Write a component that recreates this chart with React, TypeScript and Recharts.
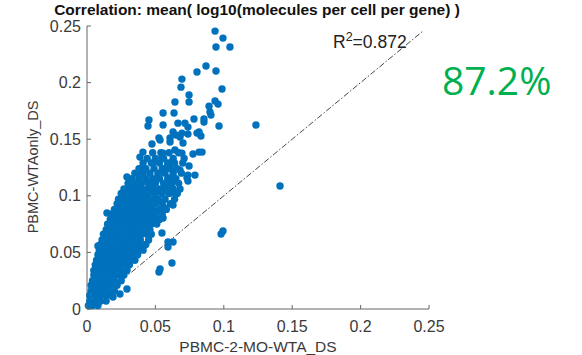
import React from "react";
import { ScatterChart, Scatter, XAxis, YAxis, ReferenceLine } from "recharts";

// axis ticks
const xTicks = [0, 0.05, 0.1, 0.15, 0.2, 0.25];
const yTicks = [0, 0.05, 0.1, 0.15, 0.2, 0.25];
const diagonalEnd = 0.245;
const r2Label = "0.872";
const bigPercent = "87.2%";

// dense core: [y, xs along that row]
const coreRows: [number, number[]][] = [
  [0.003, [0.001, 0.004, 0.008]],
  [0.007, [0.002, 0.006, 0.010, 0.014]],
  [0.012, [0.002, 0.006, 0.010, 0.014, 0.018]],
  [0.016, [0.003, 0.007, 0.011, 0.015, 0.020]],
  [0.021, [0.003, 0.006, 0.010, 0.014, 0.018, 0.022]],
  [0.025, [0.004, 0.008, 0.012, 0.016, 0.020, 0.025]],
  [0.030, [0.005, 0.009, 0.013, 0.017, 0.021, 0.024, 0.027]],
  [0.034, [0.005, 0.008, 0.012, 0.016, 0.020, 0.024, 0.029]],
  [0.039, [0.006, 0.010, 0.014, 0.018, 0.022, 0.026, 0.031]],
  [0.043, [0.007, 0.011, 0.015, 0.019, 0.023, 0.027, 0.031, 0.035]],
  [0.048, [0.008, 0.012, 0.016, 0.020, 0.024, 0.028, 0.032, 0.037]],
  [0.052, [0.009, 0.013, 0.017, 0.021, 0.025, 0.029, 0.033, 0.037, 0.041]],
  [0.057, [0.010, 0.014, 0.018, 0.022, 0.026, 0.030, 0.034, 0.038, 0.043]],
  [0.061, [0.011, 0.015, 0.019, 0.023, 0.027, 0.031, 0.035, 0.039, 0.045]],
  [0.066, [0.012, 0.016, 0.020, 0.024, 0.028, 0.032, 0.036, 0.040, 0.044, 0.047]],
  [0.070, [0.014, 0.018, 0.022, 0.026, 0.030, 0.034, 0.038, 0.042, 0.046]],
  [0.075, [0.015, 0.019, 0.023, 0.027, 0.031, 0.035, 0.039, 0.043, 0.047, 0.051]],
  [0.079, [0.017, 0.021, 0.025, 0.029, 0.033, 0.037, 0.041, 0.045, 0.049, 0.053]],
  [0.084, [0.018, 0.022, 0.026, 0.030, 0.034, 0.038, 0.042, 0.046, 0.050, 0.055]],
  [0.088, [0.020, 0.024, 0.028, 0.032, 0.036, 0.040, 0.044, 0.048, 0.053, 0.058]],
  [0.093, [0.022, 0.026, 0.030, 0.034, 0.038, 0.042, 0.046, 0.050, 0.055, 0.061]],
  [0.097, [0.023, 0.027, 0.031, 0.035, 0.039, 0.043, 0.047, 0.052, 0.057, 0.064]],
  [0.102, [0.025, 0.029, 0.033, 0.037, 0.041, 0.045, 0.050, 0.055, 0.060, 0.066]],
  [0.106, [0.027, 0.031, 0.035, 0.040, 0.044, 0.048, 0.053, 0.058, 0.063, 0.068]],
  [0.111, [0.030, 0.035, 0.040, 0.045, 0.050, 0.056, 0.062, 0.067]],
  [0.115, [0.033, 0.038, 0.043, 0.048, 0.053, 0.059, 0.065]],
  [0.120, [0.035, 0.041, 0.046, 0.052, 0.057, 0.063, 0.069]],
  [0.124, [0.038, 0.043, 0.049, 0.055, 0.061, 0.066]],
  [0.129, [0.041, 0.047, 0.053, 0.059, 0.064, 0.070]],
  [0.133, [0.044, 0.050, 0.056, 0.063, 0.071]],
  [0.138, [0.048, 0.054, 0.060, 0.067]],
];

// sparse upper points [x, y]
const upperPoints: [number, number][] = [
  [0.0936, 0.2455], [0.0994, 0.2393], [0.0943, 0.2314], [0.1045, 0.2314],
  [0.0870, 0.2146], [0.0804, 0.2093], [0.0943, 0.2102], [0.0694, 0.2031],
  [0.0687, 0.1960], [0.0987, 0.1943], [0.0746, 0.1890], [0.0643, 0.1828],
  [0.0746, 0.1828], [0.0936, 0.1837], [0.0892, 0.1792], [0.0958, 0.1810],
  [0.0556, 0.1731], [0.0636, 0.1731], [0.0899, 0.1740], [0.0906, 0.1713],
  [0.0453, 0.1669], [0.0446, 0.1616], [0.0556, 0.1625], [0.0665, 0.1642],
  [0.0716, 0.1642], [0.0738, 0.1607], [0.0782, 0.1678], [0.0855, 0.1678],
  [0.0855, 0.1651], [0.0965, 0.1616], [0.1235, 0.1625], [0.0629, 0.1563],
  [0.0526, 0.1510], [0.0607, 0.1510], [0.0680, 0.1519], [0.0738, 0.1545],
  [0.0819, 0.1563], [0.0833, 0.1528], [0.0694, 0.1554], [0.0804, 0.1554],
  [0.0702, 0.1466], [0.0694, 0.1377], [0.0775, 0.1369], [0.0819, 0.1386],
  [0.0680, 0.1227], [0.0746, 0.1263], [0.0789, 0.1183], [0.0731, 0.1157],
  [0.0738, 0.1130], [0.0651, 0.1536], [0.0534, 0.1492], [0.0475, 0.1457],
  [0.0607, 0.1475], [0.0643, 0.1404], [0.0556, 0.1377], [0.0409, 0.1386],
  [0.0387, 0.1342], [0.0841, 0.1386], [0.0548, 0.1342], [0.0621, 0.1298],
  [0.0409, 0.1254], [0.0482, 0.1289], [0.0585, 0.1254], [0.0738, 0.1183],
  [0.0292, 0.1166], [0.0387, 0.1183], [0.0519, 0.1183], [0.0607, 0.1157],
  [0.0365, 0.1077], [0.0461, 0.1095], [0.0585, 0.1095],
];

// scattered points around the core and near the diagonal [x, y]
const lowerPoints: [number, number][] = [
  [0.1411, 0.1086], [0.0994, 0.0689], [0.0980, 0.0662],
  [0.0146, 0.0848], [0.0336, 0.1077], [0.0475, 0.1077], [0.0570, 0.1068],
  [0.0643, 0.1024], [0.0629, 0.0918], [0.0570, 0.0892], [0.0300, 0.1007],
  [0.0497, 0.0980], [0.0556, 0.0804], [0.0548, 0.0671], [0.0592, 0.0592],
  [0.0629, 0.0592], [0.0227, 0.0892], [0.0219, 0.0804], [0.0168, 0.0715],
  [0.0154, 0.0627], [0.0117, 0.0547], [0.0409, 0.0547], [0.0351, 0.0459],
  [0.0292, 0.0344], [0.0592, 0.0547], [0.0621, 0.0406], [0.0534, 0.0353],
  [0.0526, 0.0327], [0.0292, 0.0177], [0.0241, 0.0132], [0.0190, 0.0106],
  [0.0080, 0.0556],
];

const points = [
  ...coreRows.flatMap(([y, xs]) => xs.map((x) => ({ x, y }))),
  ...upperPoints.map(([x, y]) => ({ x, y })),
  ...lowerPoints.map(([x, y]) => ({ x, y })),
];

const FONT = "'Liberation Sans', Arial, Helvetica, sans-serif";
const AXIS_COLOR = "#666";
const TEXT_COLOR = "#3a3a3a";
const DOT_COLOR = "#0072BD";

const XTick = (props: any) => {
  const { x, y, payload } = props;
  return (
    <g>
      <line x1={x} x2={x} y1={y} y2={y - 4} stroke={AXIS_COLOR} strokeWidth={1} />
      <text x={x} y={y + 17} textAnchor="middle" dominantBaseline="central" fontSize={16} fontFamily={FONT} fill={TEXT_COLOR}>
        {String(payload.value)}
      </text>
    </g>
  );
};

const YTick = (props: any) => {
  const { x, y, payload } = props;
  return (
    <g>
      <line x1={x} x2={x + 4} y1={y} y2={y} stroke={AXIS_COLOR} strokeWidth={1} />
      <text x={x - 6} y={y} textAnchor="end" dominantBaseline="central" fontSize={16} fontFamily={FONT} fill={TEXT_COLOR}>
        {String(payload.value)}
      </text>
    </g>
  );
};

const Dot = (props: any) => <circle cx={props.cx} cy={props.cy} r={3.7} fill={DOT_COLOR} />;

export default function App() {
  return (
    <div style={{ position: "absolute", left: 0, top: 0, width: 582, height: 355, background: "#fff" }}>
      <ScatterChart width={582} height={355} margin={{ top: 26, right: 153, bottom: 0, left: 0 }}>
        <XAxis
          type="number"
          dataKey="x"
          domain={[0, 0.25]}
          ticks={xTicks}
          height={46}
          tickSize={0}
          tickMargin={0}
          tickLine={false}
          tick={<XTick />}
          axisLine={{ stroke: AXIS_COLOR, strokeWidth: 1 }}
          interval={0}
        />
        <YAxis
          type="number"
          dataKey="y"
          domain={[0, 0.25]}
          ticks={yTicks}
          width={87}
          tickSize={0}
          tickMargin={0}
          tickLine={false}
          tick={<YTick />}
          axisLine={{ stroke: AXIS_COLOR, strokeWidth: 1 }}
          interval={0}
        />
        <ReferenceLine
          segment={[{ x: 0, y: 0 }, { x: diagonalEnd, y: diagonalEnd }]}
          stroke="#333"
          strokeWidth={0.9}
          strokeDasharray="6 2 1.5 2"
          ifOverflow="visible"
        />
        <Scatter data={points} shape={<Dot />} isAnimationActive={false} />
      </ScatterChart>
      <svg width={582} height={355} style={{ position: "absolute", left: 0, top: 0, pointerEvents: "none" }}>
        <text x={257} y={15} textAnchor="middle" fontSize={15.5} fontWeight="bold" fontFamily={FONT} fill="#111">
          Correlation: mean( log10(molecules per cell per gene) )
        </text>
        <text x={33} y={167} transform="rotate(-90 33 167)" textAnchor="middle" dominantBaseline="central" fontSize={14.5} fontFamily={FONT} fill={TEXT_COLOR}>
          PBMC-WTAonly_DS
        </text>
        <text x={258} y={346} textAnchor="middle" dominantBaseline="central" fontSize={15.5} fontFamily={FONT} fill={TEXT_COLOR}>
          PBMC-2-MO-WTA_DS
        </text>
        <text x={333} y={48} fontSize={17.5} fontFamily={FONT} fill="#222">
          R<tspan dy={-7} fontSize={12.5}>2</tspan><tspan dy={7}>={r2Label}</tspan>
        </text>
        <text x={442} y={95} fontSize={39} fontFamily="'Open Sans', sans-serif" fill="#00B050">
          {bigPercent}
        </text>
      </svg>
    </div>
  );
}
